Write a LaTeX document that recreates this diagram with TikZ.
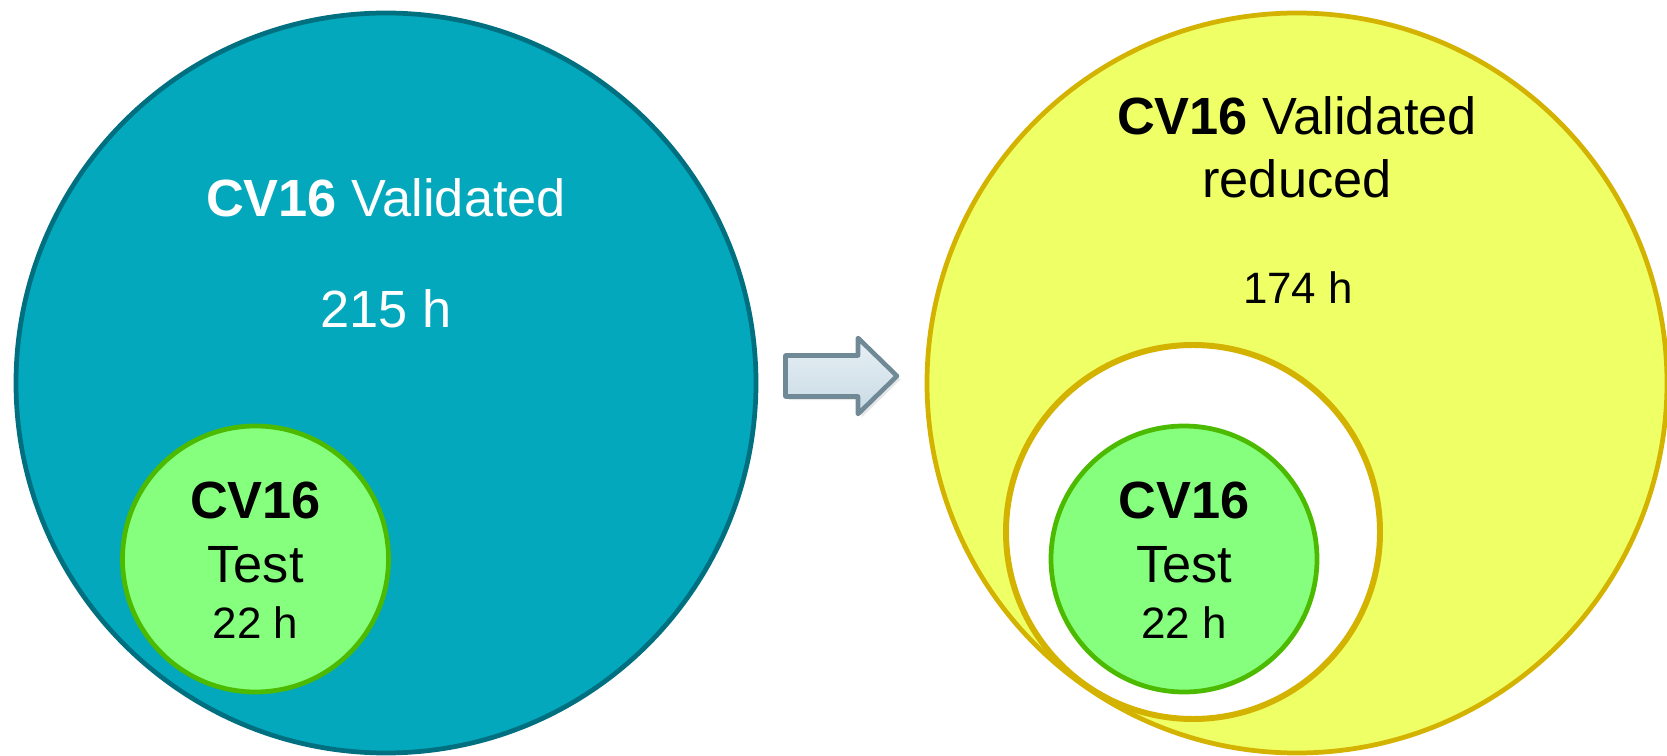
\documentclass[tikz,border=0pt]{standalone}
\usepackage{fontspec}
\setmainfont{Liberation Sans}
\usetikzlibrary{shadows}
\definecolor{valfill}{RGB}{3,168,188}
\definecolor{valdraw}{RGB}{0,112,128}
\definecolor{redfill}{RGB}{239,255,102}
\definecolor{reddraw}{RGB}{212,178,0}
\definecolor{tstfill}{RGB}{134,255,126}
\definecolor{tstdraw}{RGB}{76,187,0}
\definecolor{arrdraw}{RGB}{112,137,150}
\definecolor{arrtop}{RGB}{232,240,245}
\definecolor{arrbot}{RGB}{200,218,228}
\tikzset{
  setcirc/.style={circle,inner sep=0pt,line width=2.7pt},
  bigtxt/.style={font=\fontsize{29.8}{36}\selectfont,anchor=base,inner sep=0pt},
  smltxt/.style={font=\fontsize{25}{30}\selectfont,anchor=base,inner sep=0pt},
}
\begin{document}
\begin{tikzpicture}[x=0.02cm,y=-0.02cm]
\pgfmathsetmacro{\krbig}{370}
\pgfmathsetmacro{\krmid}{187}
\pgfmathsetmacro{\krtst}{133}
\useasboundingbox (0,0) rectangle (1667,756);
% validated sets
\node[setcirc,draw=valdraw,fill=valfill,minimum size=2*\krbig*0.02cm] (valL) at (386,383) {};
\node[setcirc,draw=reddraw,fill=redfill,minimum size=2*\krbig*0.02cm] (valR) at (1297,383) {};
\node[setcirc,draw=reddraw,fill=white,line width=3.4pt,minimum size=2*\krmid*0.02cm] (hole) at (1193,532) {};
% test sets
\foreach \kc/\kx in {L/255.5,R/1184}{
  \node[setcirc,draw=tstdraw,fill=tstfill,minimum size=2*\krtst*0.02cm] (tst\kc) at (\kx,559) {};
  \node[bigtxt] (cv\kc) at (\kx,519) {\textbf{CV16}};
  \node[bigtxt] (ts\kc) at (\kx,582.5) {Test};
  \node[smltxt] (hr\kc) at (\kx,639) {22 h};
}
\node[bigtxt,text=white] (titL) at (386,217) {\textbf{CV16} Validated};
\node[bigtxt,text=white] (hrsL) at (386,328) {215 h};
\node[bigtxt] (titR) at (1297,135) {\textbf{CV16} Validated};
\node[bigtxt] (subR) at (1297,198) {reduced};
\node[smltxt] (hrsR) at (1298,304) {174 h};
% arrow
\draw[arrdraw,line width=2.6pt,line join=round,top color=arrtop,bottom color=arrbot,
  drop shadow={opacity=0.2,shadow xshift=2pt,shadow yshift=-2pt}]
  (785.5,355.5)--(858,355.5)--(858,338)--(897,376)--(858,414)--(858,396.5)--(785.5,396.5)--cycle;
\end{tikzpicture}
\end{document}
